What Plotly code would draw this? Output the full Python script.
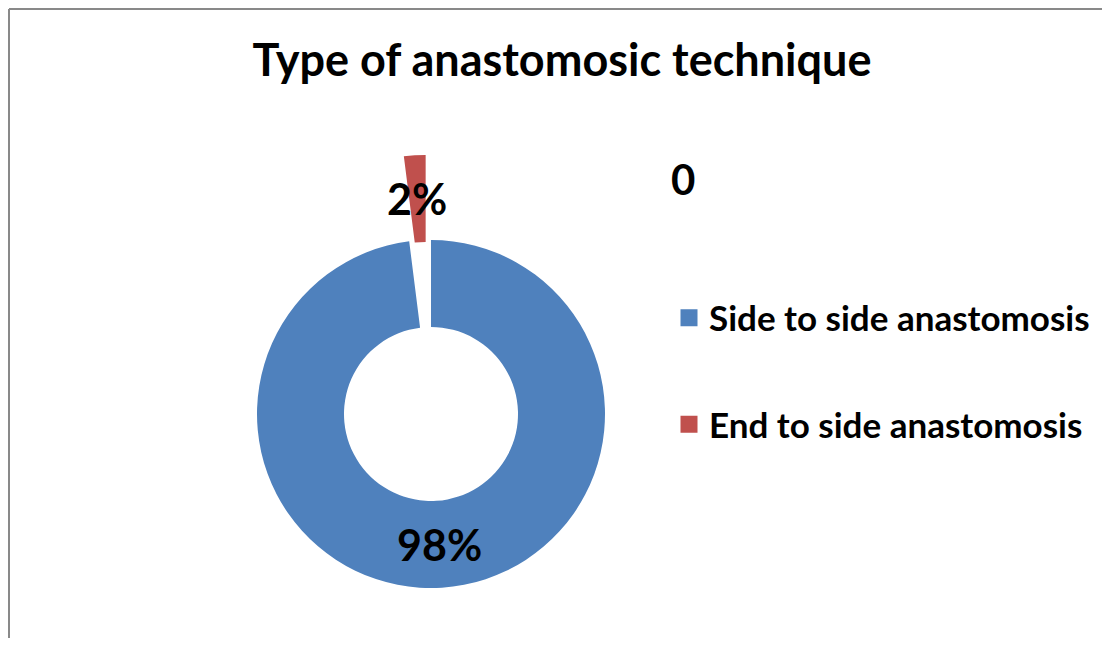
import math
import plotly.graph_objects as go

# ---------------- data ----------------
title_text = "Type of anastomosic technique"
series_name = "0"
labels = ["Side to side anastomosis", "End to side anastomosis"]
values = [98, 2]
colors = ["#4F81BD", "#C0504D"]

# ---------------- layout constants ----------------
PAGE_OFF = 8                 # default body margin of the html page
W, H = 1110 - PAGE_OFF, 646 - 2 * PAGE_OFF
CX, CY, R = 431, 414, 174    # ring centre / radius in page pixels
HOLE = 0.5
PULL = 0.49                  # exploded-slice offset, fraction of radius
EXPLODE = 1                  # index of exploded slice
FONT = "Lato"
TRANSPARENT = "rgba(0,0,0,0)"


def px(x):
    return (x - PAGE_OFF) / W


def py(y):
    return 1 - (y - PAGE_OFF) / H


def dom(cx, cy, r):
    return dict(x=[px(cx - r), px(cx + r)], y=[py(cy + r), py(cy - r)])


total = sum(values)
pct = [f"{round(v / total * 100)}%" for v in values]

# slice bisectors (clockwise from 12 o'clock)
bis = []
acc = 0
for v in values:
    bis.append(math.radians((acc + v / 2) / total * 360))
    acc += v
dx = PULL * R * math.sin(bis[EXPLODE])
dy = -PULL * R * math.cos(bis[EXPLODE])

fig = go.Figure()

# legend-only helper pies (tiny, hidden under the ring)
for i, (lab, val, col) in enumerate(zip(labels, values, colors)):
    fig.add_trace(go.Pie(
        labels=[lab], values=[val], sort=False,
        marker=dict(colors=[col], line=dict(color=col, width=5)),
        textinfo="none", hoverinfo="skip",
        domain=dom(300, 414, 0.5),
        legendgroup=f"g{i}", showlegend=True,
    ))

common = dict(
    labels=labels, values=values, sort=False, direction="clockwise",
    rotation=0, hole=HOLE, textinfo="none",
    hoverinfo="label+percent", showlegend=False,
)

# main ring (exploded slice left empty)
fig.add_trace(go.Pie(
    marker=dict(colors=[c if i != EXPLODE else TRANSPARENT for i, c in enumerate(colors)],
                line=dict(width=0)),
    domain=dom(CX, CY, R), **common,
))

# exploded slice
fig.add_trace(go.Pie(
    marker=dict(colors=[c if i == EXPLODE else TRANSPARENT for i, c in enumerate(colors)],
                line=dict(width=0)),
    domain=dom(CX + dx, CY + dy, R), **common,
))

# data labels at the middle of each ring segment
r_mid = R * (1 + HOLE) / 2
annotations = []
for i, (p, a) in enumerate(zip(pct, bis)):
    ox, oy = (dx, dy) if i == EXPLODE else (0, 0)
    lx = CX + ox + r_mid * math.sin(a)
    ly = CY + oy - r_mid * math.cos(a)
    annotations.append(dict(
        text=p, x=px(lx), y=py(ly), xref="paper", yref="paper",
        xanchor="center", yanchor="middle", showarrow=False,
        font=dict(family=FONT, size=43, color="black", weight=700),
    ))

fig.update_layout(
    width=W, height=H,
    margin=dict(l=0, r=0, t=0, b=0),
    paper_bgcolor="white", plot_bgcolor="white",
    title=dict(text=title_text, x=px(562), y=py(60),
               xanchor="center", yanchor="middle",
               font=dict(family=FONT, size=45, color="black", weight=700)),
    legend=dict(
        x=px(669), xanchor="left", y=py(148), yanchor="top",
        title=dict(text=f"<span style='font-size:42px'>{series_name}</span><br> <br> ",
                   font=dict(family=FONT, size=36, color="black", weight=700)),
        font=dict(family=FONT, size=35, color="black", weight=700),
        tracegroupgap=58, bgcolor=TRANSPARENT,
    ),
    annotations=annotations,
    shapes=[
        dict(type="line", xref="paper", yref="paper",
             x0=1 / W, x1=1 / W, y0=0, y1=1 - 1 / H,
             line=dict(color="#898989", width=2)),
        dict(type="line", xref="paper", yref="paper",
             x0=1 / W, x1=1, y0=1 - 1 / H, y1=1 - 1 / H,
             line=dict(color="#898989", width=2)),
    ],
)

fig.write_html("out.html")
